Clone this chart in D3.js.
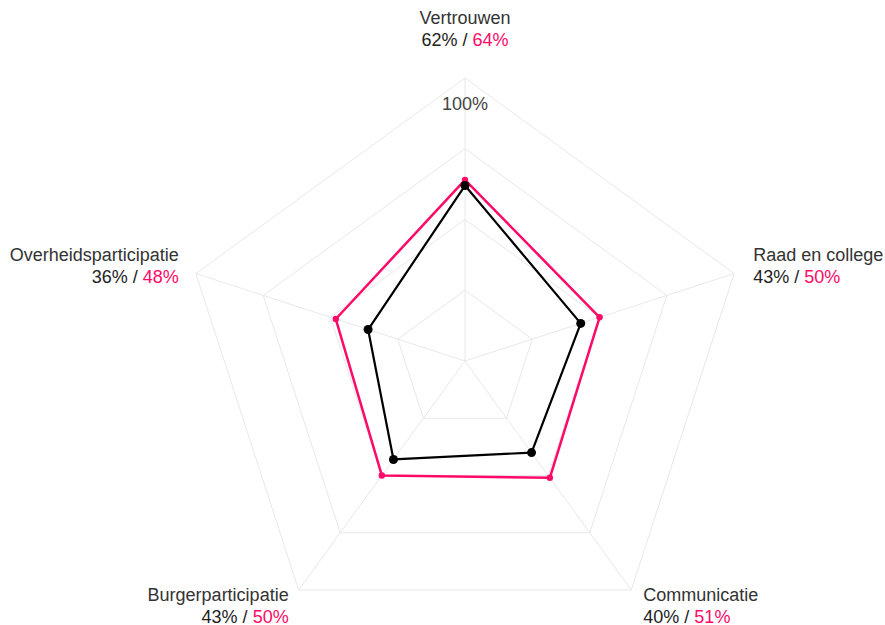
<!DOCTYPE html>
<html lang="nl">
<head>
  <meta charset="UTF-8">
  <title>Radar</title>
  <script src="https://d3js.org/d3.v7.min.js"></script>
  <style>
    body { margin: 0; background: #fff; }
    text { font-family: "Liberation Sans", Arial, sans-serif; font-size: 18px; fill: #333; }
  </style>
</head>
<body>
  <div id="chart"></div>
  <script>
    const width = 885;
    const height = 625;

    // Data
    const axes = ["Vertrouwen", "Raad en college", "Communicatie", "Burgerparticipatie", "Overheidsparticipatie"];
    const seriesBlack = [62, 43, 40, 43, 36];
    const seriesPink = [64, 50, 51, 50, 48];
    const gridLevels = [25, 50, 75, 100];

    const pink = "#ff0a68";
    const cx = 465, cy = 361, radius = 283;

    const svg = d3.select("#chart").append("svg")
      .attr("width", width)
      .attr("height", height);

    const r = d3.scaleLinear().domain([0, 100]).range([0, radius]);
    const angle = i => (i / axes.length) * 2 * Math.PI;
    const pt = (i, v) => [cx + r(v) * Math.sin(angle(i)), cy - r(v) * Math.cos(angle(i))];

    const g = svg.append("g");

    // grid
    gridLevels.forEach(lv => {
      g.append("path")
        .attr("d", d3.line()(axes.map((a, i) => pt(i, lv))) + "Z")
        .attr("fill", "none")
        .attr("stroke", "#e8e8e8")
        .attr("stroke-width", 1);
    });
    axes.forEach((a, i) => {
      const [x, y] = pt(i, 100);
      g.append("line")
        .attr("x1", cx).attr("y1", cy).attr("x2", x).attr("y2", y)
        .attr("stroke", "#e8e8e8").attr("stroke-width", 1);
    });

    g.append("text")
      .attr("x", cx).attr("y", cy - r(100) + 32)
      .attr("text-anchor", "middle")
      .style("fill", "#444")
      .text("100%");

    const line = d3.line();

    function drawSeries(values, color, width, dotR) {
      const pts = values.map((v, i) => pt(i, v));
      g.append("path")
        .attr("d", line(pts) + "Z")
        .attr("fill", "none")
        .attr("stroke", color)
        .attr("stroke-width", width)
        .attr("stroke-linejoin", "round");
      g.selectAll(null).data(pts).enter().append("circle")
        .attr("cx", d => d[0]).attr("cy", d => d[1])
        .attr("r", dotR)
        .attr("fill", color);
    }

    drawSeries(seriesPink, pink, 2.5, 3.2);
    drawSeries(seriesBlack, "#000", 2.2, 4.5);

    // labels
    const labelPos = [
      { dx: 0, dy: -54, anchor: "middle" },
      { dx: 19, dy: -13, anchor: "start" },
      { dx: 12, dy: 11, anchor: "start" },
      { dx: -10, dy: 11, anchor: "end" },
      { dx: -17, dy: -13, anchor: "end" }
    ];

    axes.forEach((a, i) => {
      const [x, y] = pt(i, 100);
      const p = labelPos[i];
      const t = g.append("text")
        .attr("x", x + p.dx).attr("y", y + p.dy)
        .attr("text-anchor", p.anchor);
      t.append("tspan").attr("x", x + p.dx).text(a);
      const t2 = g.append("text")
        .attr("x", x + p.dx).attr("y", y + p.dy + 22)
        .attr("text-anchor", p.anchor);
      t2.append("tspan").style("fill", "#222").text(seriesBlack[i] + "% / ");
      t2.append("tspan").style("fill", pink).text(seriesPink[i] + "%");
    });
  </script>
</body>
</html>
